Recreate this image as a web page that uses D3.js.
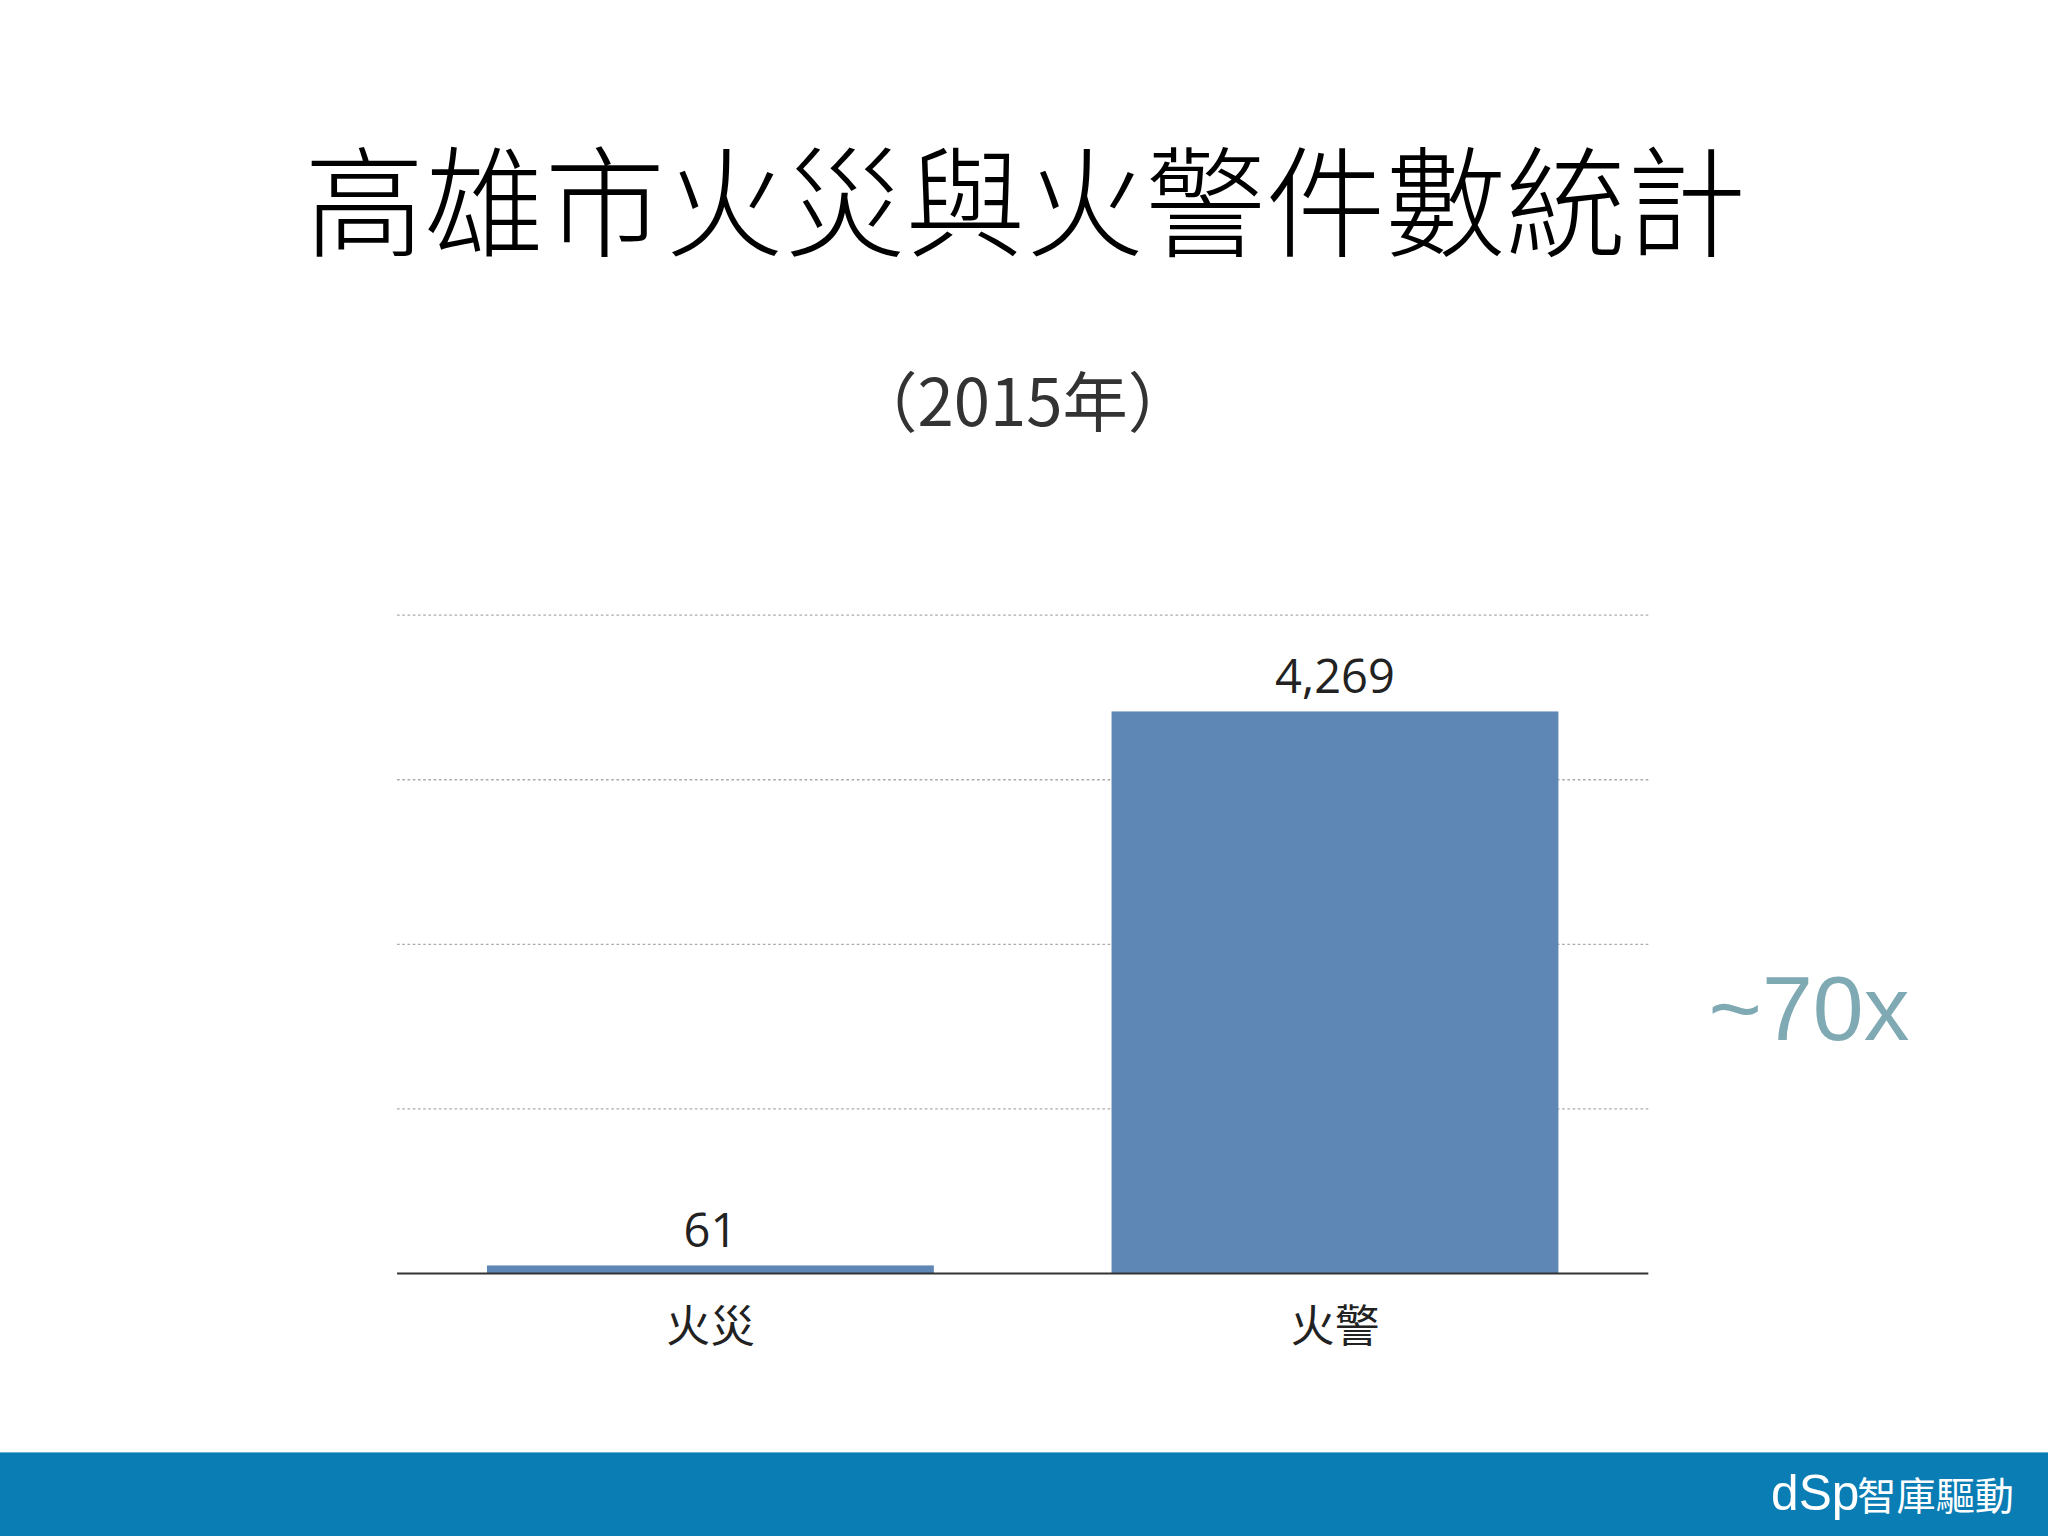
<!DOCTYPE html>
<html><head><meta charset="utf-8">
<script src="https://cdn.jsdelivr.net/npm/d3@7"></script>
<style>body{margin:0;background:#fff}svg{display:block}</style>
</head><body>
<script>
const categories = ["火災", "火警"];
const values = [61, 4269];
const ticks = [0, 1250, 2500, 3750, 5000];

const W = 1568, H = 1176;
const svg = d3.select("body").append("svg")
  .attr("width", 2048).attr("height", 1536)
  .attr("viewBox", `0 0 ${W} ${H}`);

const cjk = "'Noto Sans CJK TC','Noto Sans CJK SC',sans-serif";
svg.append("text").attr("x", 785).attr("y", 190).attr("text-anchor", "middle")
  .attr("font-family", cjk).attr("font-weight", 300).attr("font-size", 92).attr("fill", "#000")
  .text("高雄市火災與火警件數統計");
svg.append("text").attr("x", 783).attr("y", 326).attr("text-anchor", "middle")
  .attr("font-family", cjk).attr("font-size", 50).attr("fill", "#333")
  .text("（2015年）");

const x = d3.scaleBand().domain(categories).range([304, 1262]).paddingInner(0.2845).paddingOuter(0.144);
const y = d3.scaleLinear().domain([0, 5000]).range([975, 471]);

svg.append("g").selectAll("line").data(ticks.slice(1)).join("line")
  .attr("x1", 304).attr("x2", 1262).attr("y1", d => y(d)).attr("y2", d => y(d))
  .attr("stroke", "#aaa").attr("stroke-dasharray", "2,2").attr("stroke-width", 1);

svg.append("g").selectAll("rect").data(values).join("rect")
  .attr("x", (d, i) => x(categories[i])).attr("width", x.bandwidth())
  .attr("y", d => y(d)).attr("height", d => y(0) - y(d)).attr("fill", "#5f87b6");

svg.append("g").selectAll("text").data(values).join("text")
  .attr("x", (d, i) => x(categories[i]) + x.bandwidth() / 2).attr("y", d => y(d) - 14)
  .attr("text-anchor", "middle").attr("font-family", "'Open Sans',sans-serif").attr("font-size", 36).attr("fill", "#222")
  .text(d => d3.format(",")(d));

const xa = svg.append("g").attr("transform", `translate(0,975)`)
  .call(d3.axisBottom(x).tickSize(0).tickPadding(28));
xa.select(".domain").attr("stroke", "#333").attr("stroke-width", 1.5).attr("d", "M304,0H1262");
xa.selectAll("text").attr("font-family", cjk).attr("font-size", 34).attr("fill", "#222");

svg.append("text").attr("x", 1385).attr("y", 796).attr("text-anchor", "middle")
  .attr("font-family", "'Liberation Sans',Arial,sans-serif").attr("font-size", 70).attr("fill", "#7fa9b3")
  .text("~70x");

svg.append("rect").attr("x", 0).attr("y", 1112).attr("width", W).attr("height", 64).attr("fill", "#0a7db5");
svg.append("text").attr("x", 1356).attr("y", 1156)
  .attr("font-family", "'Liberation Sans',sans-serif").attr("font-size", 38).attr("fill", "#fff")
  .text("dSp");
svg.append("text").attr("x", 1542).attr("y", 1156).attr("text-anchor", "end")
  .attr("font-family", cjk).attr("font-size", 30).attr("fill", "#fff")
  .text("智庫驅動");
</script>
</body></html>
